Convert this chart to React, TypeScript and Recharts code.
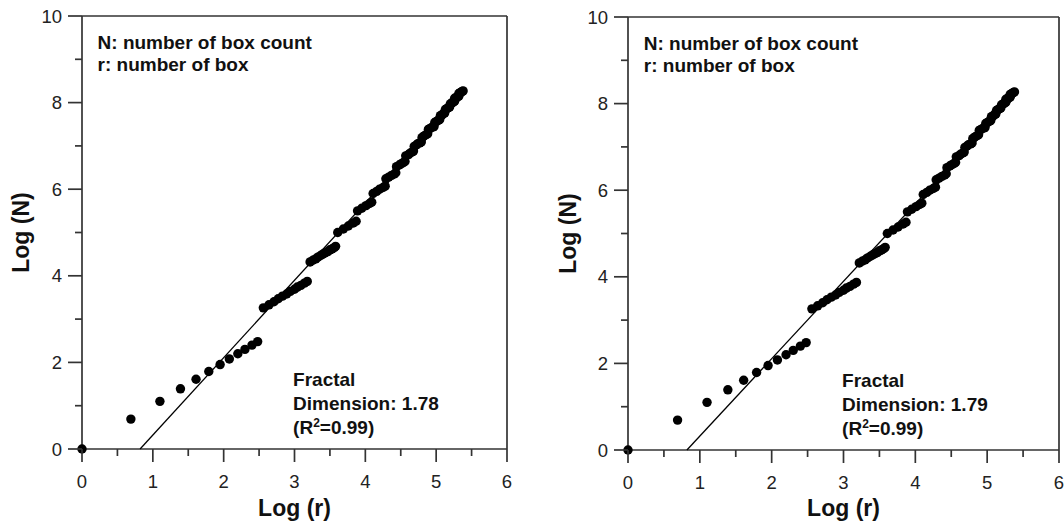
import { ScatterChart, Scatter, XAxis, YAxis, ReferenceLine } from "recharts";

// log(r) / log(N) box-count readings
const logR = [
  0, 0.69, 1.1, 1.39, 1.61, 1.79, 1.95, 2.08, 2.2, 2.3, 2.4, 2.48,
  2.56, 2.64, 2.71, 2.77, 2.83, 2.89, 2.94, 3.0, 3.04, 3.09, 3.14, 3.18,
  3.22, 3.26, 3.3, 3.33, 3.37, 3.4, 3.43, 3.47, 3.5, 3.53, 3.56, 3.58,
  3.61, 3.69, 3.76, 3.83, 3.87,
  3.89, 3.95, 4.01, 4.06, 4.09,
  4.11, 4.16, 4.2, 4.25, 4.28,
  4.29, 4.33, 4.37, 4.41, 4.43,
  4.44, 4.48, 4.51, 4.54, 4.56,
  4.57, 4.61, 4.63, 4.66, 4.68,
  4.69, 4.72, 4.74, 4.77, 4.79,
  4.8, 4.82, 4.84, 4.87, 4.88,
  4.89, 4.91, 4.93, 4.96, 4.97,
  4.98, 5.0, 5.02, 5.04, 5.05,
  5.06, 5.08, 5.09, 5.11, 5.12,
  5.13, 5.15, 5.16, 5.18, 5.19,
  5.2, 5.22, 5.23, 5.25, 5.26,
  5.26, 5.28, 5.29, 5.31, 5.32,
  5.32, 5.34, 5.35, 5.37, 5.38,
];
const logN = [
  0, 0.69, 1.1, 1.39, 1.61, 1.79, 1.95, 2.08, 2.2, 2.3, 2.4, 2.48,
  3.26, 3.33, 3.4, 3.47, 3.53, 3.58, 3.64, 3.69, 3.74, 3.78, 3.83, 3.87,
  4.32, 4.36, 4.39, 4.43, 4.47, 4.5, 4.53, 4.56, 4.6, 4.62, 4.65, 4.68,
  5.0, 5.08, 5.15, 5.22, 5.26,
  5.5, 5.56, 5.62, 5.67, 5.7,
  5.9, 5.95, 6.0, 6.04, 6.07,
  6.24, 6.28, 6.32, 6.35, 6.38,
  6.52, 6.56, 6.59, 6.62, 6.64,
  6.77, 6.8, 6.83, 6.86, 6.88,
  6.99, 7.02, 7.05, 7.07, 7.09,
  7.19, 7.22, 7.24, 7.27, 7.28,
  7.38, 7.4, 7.42, 7.44, 7.45,
  7.54, 7.56, 7.58, 7.6, 7.61,
  7.7, 7.71, 7.73, 7.75, 7.76,
  7.84, 7.86, 7.87, 7.89, 7.9,
  7.97, 7.99, 8.0, 8.02, 8.03,
  8.1, 8.11, 8.13, 8.14, 8.15,
  8.21, 8.23, 8.24, 8.26, 8.27,
];

// fitted line end points
const fitR = [0.82, 5.38];
const fitN = [0, 8.15];

const xTicks = [0, 0.5, 1, 1.5, 2, 2.5, 3, 3.5, 4, 4.5, 5, 5.5, 6];
const yTicks = [0, 1, 2, 3, 4, 5, 6, 7, 8, 9, 10];

const dimensions = ["1.78", "1.79"];
const rSquared = "0.99";
const legendLines = ["N: number of box count", "r: number of box"];

const FONT = '"Liberation Sans", Arial, sans-serif';
const AXIS = "#333";

const points = logR.map((r, i) => ({ x: r, y: logN[i] }));
const fitData = fitR.map((r, i) => ({ x: r, y: fitN[i] }));

function XTick(props: any) {
  const { x, y, payload } = props;
  const v = payload.value as number;
  const major = Number.isInteger(v);
  return (
    <g>
      <line x1={x} x2={x} y1={y} y2={y + (major ? 13 : 7)} stroke={AXIS} strokeWidth={1.7} />
      {major && (
        <text x={x} y={y + 39} textAnchor="middle" fontSize={18.5} fill="#222" fontFamily={FONT}>
          {v}
        </text>
      )}
    </g>
  );
}

function YTick(props: any) {
  const { x, y, payload } = props;
  const v = payload.value as number;
  const major = v % 2 === 0;
  return (
    <g>
      <line x1={x} x2={x - (major ? 14 : 7)} y1={y} y2={y} stroke={AXIS} strokeWidth={1.7} />
      {major && (
        <text x={x - 20} y={y + 6.5} textAnchor="end" fontSize={18.5} fill="#222" fontFamily={FONT}>
          {v}
        </text>
      )}
    </g>
  );
}

function Dot(props: any) {
  return <circle cx={props.cx} cy={props.cy} r={4.7} fill="#000" />;
}

function Panel({
  dim,
  width,
  yAxisWidth,
  margin,
  titleOffset,
}: {
  dim: string;
  width: number;
  yAxisWidth: number;
  margin: { top: number; right: number; bottom: number; left: number };
  titleOffset: number;
}) {
  const noteTop = [{ x: 0.22, y: 9.24 }];
  const noteBottom = [{ x: 2.98, y: 1.455 }];
  return (
    <ScatterChart width={width} height={523} margin={margin}>
      <XAxis
        type="number"
        dataKey="x"
        domain={[0, 6]}
        ticks={xTicks}
        interval={0}
        tickSize={0}
        tickMargin={0}
        tickLine={false}
        tick={(p: any) => <XTick {...p} />}
        axisLine={{ stroke: AXIS, strokeWidth: 1.7 }}
        height={523 - 449 - margin.bottom - (margin.top - 16)}
        label={{
          value: "Log (r)",
          position: "insideBottom",
          offset: 7,
          fontSize: 23,
          fontWeight: "bold",
          fill: "#111",
          fontFamily: FONT,
        }}
      />
      <YAxis
        type="number"
        dataKey="y"
        domain={[0, 10]}
        ticks={yTicks}
        interval={0}
        tickSize={0}
        tickMargin={0}
        tickLine={false}
        tick={(p: any) => <YTick {...p} />}
        axisLine={{ stroke: AXIS, strokeWidth: 1.7 }}
        width={yAxisWidth}
        label={{
          value: "Log (N)",
          angle: -90,
          position: "insideLeft",
          offset: titleOffset,
          fontSize: 23,
          fontWeight: "bold",
          fill: "#111",
          fontFamily: FONT,
          style: { textAnchor: "middle" },
        }}
      />
      <ReferenceLine y={10} stroke={AXIS} strokeWidth={1.7} />
      <ReferenceLine x={6} stroke={AXIS} strokeWidth={1.7} />
      <Scatter
        data={fitData}
        line={{ stroke: "#000", strokeWidth: 1.3 }}
        shape={() => <g />}
        isAnimationActive={false}
      />
      <Scatter data={points} shape={Dot} isAnimationActive={false} />
      <Scatter
        data={noteTop}
        isAnimationActive={false}
        shape={(p: any) => (
          <text x={p.cx} y={p.cy} fontSize={19} fontWeight="bold" fill="#111" fontFamily={FONT}>
            {legendLines.map((t, i) => (
              <tspan key={t} x={p.cx} dy={i === 0 ? 0 : 22}>
                {t}
              </tspan>
            ))}
          </text>
        )}
      />
      <Scatter
        data={noteBottom}
        isAnimationActive={false}
        shape={(p: any) => (
          <text x={p.cx} y={p.cy} fontSize={19} fontWeight="bold" fill="#111" fontFamily={FONT}>
            <tspan x={p.cx}>Fractal</tspan>
            <tspan x={p.cx} dy={24}>{`Dimension: ${dim}`}</tspan>
            <tspan x={p.cx} dy={24}>(R</tspan>
            <tspan fontSize={12} dy={-7}>2</tspan>
            <tspan dy={7}>{`=${rSquared})`}</tspan>
          </text>
        )}
      />
    </ScatterChart>
  );
}

export default function App() {
  return (
    <div style={{ position: "absolute", left: 0, top: 0, display: "flex", fontFamily: FONT, background: "#fff" }}>
      <Panel
        dim={dimensions[0]}
        width={540}
        yAxisWidth={82}
        margin={{ top: 16, right: 33, bottom: 0, left: 0 }}
        titleOffset={21}
      />
      <Panel
        dim={dimensions[1]}
        width={524}
        yAxisWidth={88}
        margin={{ top: 17, right: 5, bottom: 0, left: 0 }}
        titleOffset={28}
      />
    </div>
  );
}
